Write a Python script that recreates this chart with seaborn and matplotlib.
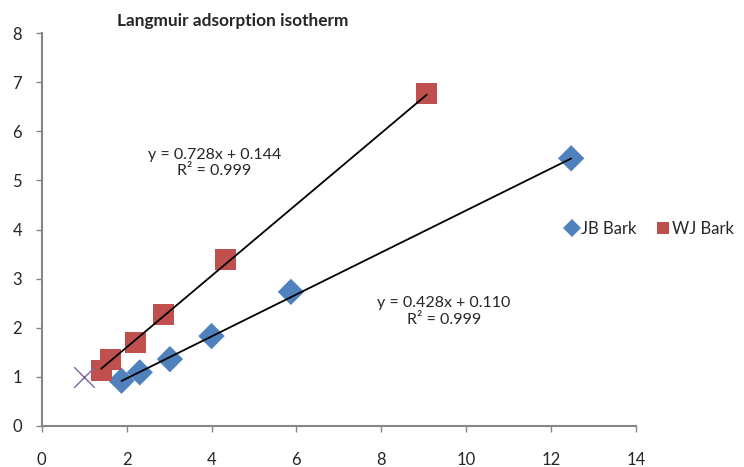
import numpy as np
import pandas as pd
import matplotlib
matplotlib.use('Agg')
import matplotlib.pyplot as plt
import seaborn as sns

# values
jb_x = [1.88, 2.31, 3.02, 4.00, 5.87, 12.47]
jb_y = [0.92, 1.09, 1.36, 1.83, 2.73, 5.45]
wj_x = [1.40, 1.63, 2.22, 2.87, 4.34, 9.07]
wj_y = [1.13, 1.36, 1.70, 2.26, 3.39, 6.77]
extra_x = [1.0]
extra_y = [1.0]

series_names = ['JB Bark', 'WJ Bark']
jb_fit = (0.428, 0.110)
wj_fit = (0.728, 0.144)
jb_label = 'y = 0.428x + 0.110\nR² = 0.999'
wj_label = 'y = 0.728x + 0.144\nR² = 0.999'

x_ticks = [0, 2, 4, 6, 8, 10, 12, 14]
y_ticks = [0, 1, 2, 3, 4, 5, 6, 7, 8]

sns.set_style('white')
plt.rcParams['font.family'] = ['Lato', 'DejaVu Sans']

df = pd.DataFrame({
    'x': jb_x + wj_x,
    'y': jb_y + wj_y,
    'series': [series_names[0]] * len(jb_x) + [series_names[1]] * len(wj_x),
})

fig = plt.figure(figsize=(7.44, 4.67), dpi=100)
ax = fig.add_axes([0.056, 0.088, 0.799, 0.841])

palette = {'JB Bark': '#4F81BD', 'WJ Bark': '#C0504D'}
markers = {'JB Bark': 'D', 'WJ Bark': 's'}
sns.scatterplot(data=df, x='x', y='y', hue='series', style='series',
                palette=palette, markers=markers, size='series',
                sizes={'JB Bark': 180, 'WJ Bark': 230}, linewidth=0,
                ax=ax, zorder=2)
sns.scatterplot(x=extra_x, y=extra_y, marker='x', color='#8064A2', s=220,
                linewidth=1.0, legend=False, ax=ax, zorder=2)

# trendlines from the equations shown on the chart
for xs, (m, b) in [(jb_x, jb_fit), (wj_x, wj_fit)]:
    xl = np.array([min(xs), max(xs)])
    ax.plot(xl, m * xl + b, color='black', lw=1.3, zorder=3)

ax.text(4.07, 5.35, wj_label, ha='center', va='center', fontsize=11.5, linespacing=1.2)
ax.text(9.47, 2.33, jb_label, ha='center', va='center', fontsize=11.5, linespacing=1.2)

ax.set_xlim(0, 14)
ax.set_ylim(0, 8)
ax.set_xticks(x_ticks)
ax.set_yticks(y_ticks)
ax.set_xlabel('')
ax.set_ylabel('')
ax.tick_params(axis='both', labelsize=12, length=4, width=1, color='#868686',
               direction='out', left=True, bottom=True)
ax.tick_params(axis='x', pad=15)
ax.tick_params(axis='y', pad=10)
for side in ['top', 'right']:
    ax.spines[side].set_visible(False)
for side in ['left', 'bottom']:
    ax.spines[side].set_color('#868686')
    ax.spines[side].set_linewidth(1.5)

handles, labels = ax.get_legend_handles_labels()
keep = [i for i, lab in enumerate(labels) if lab in series_names]
handles = [handles[i] for i in keep]
labels = [labels[i] for i in keep]
for h in handles:
    h.set_markersize(9)
ax.legend(handles, labels, loc='center left', bbox_to_anchor=(0.742, 0.51),
          bbox_transform=fig.transFigure, ncol=2, frameon=False, fontsize=12,
          handletextpad=0.05, columnspacing=1.1, handlelength=1.0,
          borderpad=0.2)

fig.text(0.313, 0.955, 'Langmuir adsorption isotherm', ha='center', va='center',
         fontsize=12.4, fontweight='bold')

fig.savefig('out.png', dpi=100)
plt.close(fig)
